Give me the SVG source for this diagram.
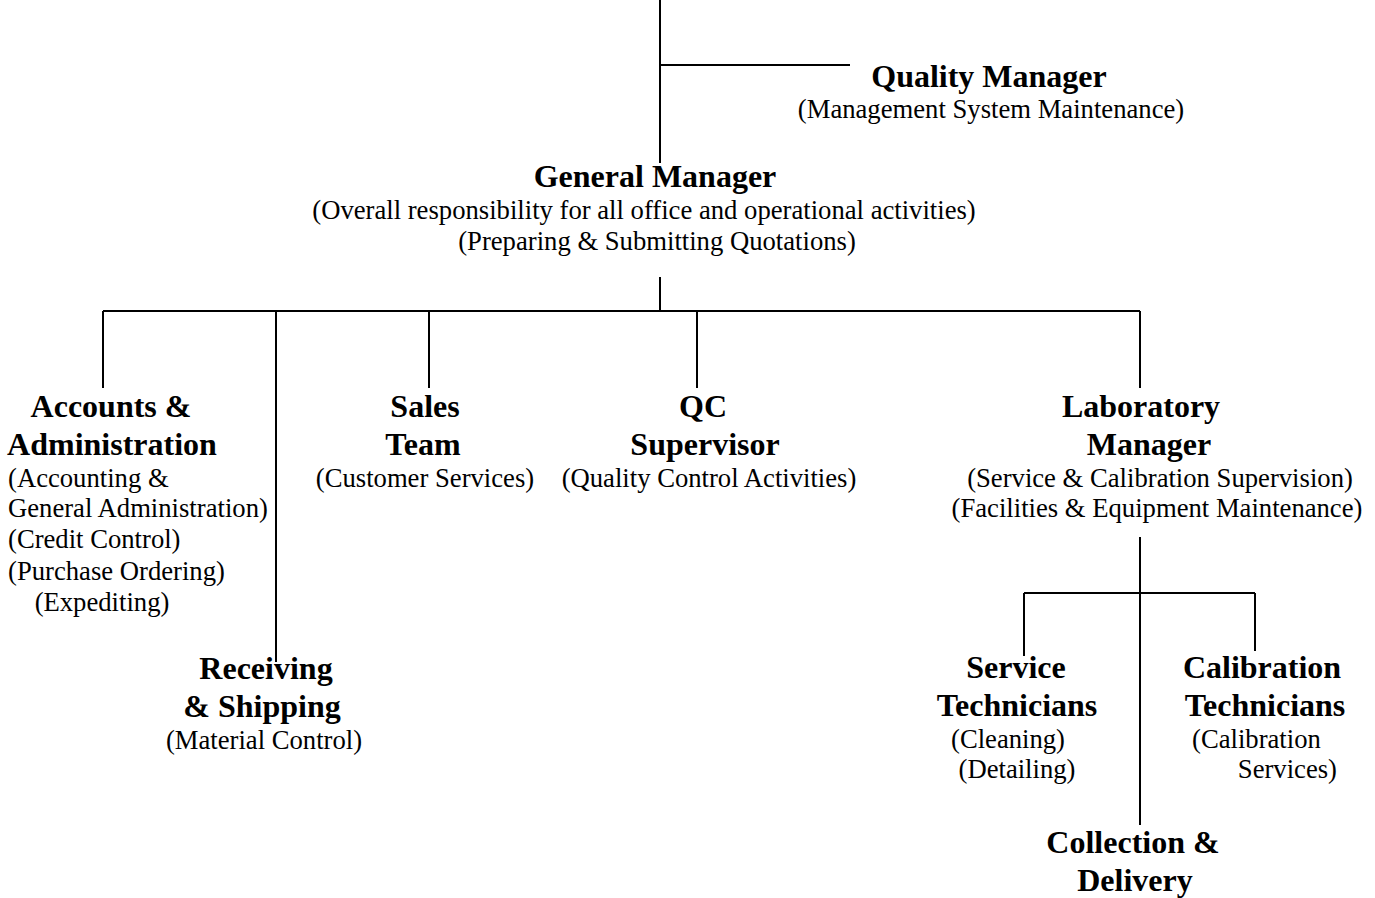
<svg xmlns="http://www.w3.org/2000/svg" width="1375" height="898" viewBox="0 0 1375 898">
<style>
.t{font-family:"Liberation Serif","Times New Roman",serif;font-weight:bold;font-size:32px;fill:#000}
.s{font-family:"Liberation Serif","Times New Roman",serif;font-size:26.67px;fill:#000}
.c{text-anchor:middle}
.l{stroke:#000;stroke-width:2;fill:none}
</style>
<rect width="1375" height="898" fill="#fff"/>
<g id="connectors" class="l">
<path d="M660 0V163"/>
<path d="M660 65H850"/>
<path d="M660 277V311"/>
<path d="M103 311H1140"/>
<path d="M103 311V388"/>
<path d="M276 311V662"/>
<path d="M429 311V388"/>
<path d="M697 311V388"/>
<path d="M1140 311V388"/>
<path d="M1140 537V825"/>
<path d="M1024 593H1255"/>
<path d="M1024 593V656"/>
<path d="M1255 593V651"/>
</g>
<g id="quality-manager">
<text class="t c" x="989" y="87">Quality Manager</text>
<text class="s c" x="991" y="118">(Management System Maintenance)</text>
</g>
<g id="general-manager">
<text class="t c" x="655" y="187">General Manager</text>
<text class="s c" x="644" y="219">(Overall responsibility for all office and operational activities)</text>
<text class="s c" x="657" y="250">(Preparing &amp; Submitting Quotations)</text>
</g>
<g id="accounts">
<text class="t c" x="111" y="417">Accounts &amp;</text>
<text class="t c" x="112" y="455">Administration</text>
<text class="s" x="8" y="487">(Accounting &amp;</text>
<text class="s" x="8" y="517">General Administration)</text>
<text class="s" x="8" y="548">(Credit Control)</text>
<text class="s" x="8" y="580">(Purchase Ordering)</text>
<text class="s c" x="102" y="611">(Expediting)</text>
</g>
<g id="receiving">
<text class="t c" x="266" y="679">Receiving</text>
<text class="t c" x="262" y="717">&amp; Shipping</text>
<text class="s c" x="264" y="749">(Material Control)</text>
</g>
<g id="sales">
<text class="t c" x="425" y="417">Sales</text>
<text class="t c" x="423" y="455">Team</text>
<text class="s c" x="425" y="487">(Customer Services)</text>
</g>
<g id="qc">
<text class="t c" x="703" y="417">QC</text>
<text class="t c" x="705" y="455">Supervisor</text>
<text class="s c" x="709" y="487">(Quality Control Activities)</text>
</g>
<g id="lab-manager">
<text class="t c" x="1141" y="417">Laboratory</text>
<text class="t c" x="1149" y="455">Manager</text>
<text class="s c" x="1160" y="487">(Service &amp; Calibration Supervision)</text>
<text class="s c" x="1157" y="517">(Facilities &amp; Equipment Maintenance)</text>
</g>
<g id="service-tech">
<text class="t c" x="1016" y="678">Service</text>
<text class="t c" x="1017" y="716">Technicians</text>
<text class="s c" x="1008" y="748">(Cleaning)</text>
<text class="s c" x="1017" y="778">(Detailing)</text>
</g>
<g id="calibration-tech">
<text class="t c" x="1262" y="678">Calibration</text>
<text class="t c" x="1265" y="716">Technicians</text>
<text class="s" x="1192" y="748">(Calibration</text>
<text class="s" x="1337" y="778" text-anchor="end">Services)</text>
</g>
<g id="collection">
<text class="t c" x="1133" y="853">Collection &amp;</text>
<text class="t c" x="1135" y="891">Delivery</text>
</g>
</svg>
